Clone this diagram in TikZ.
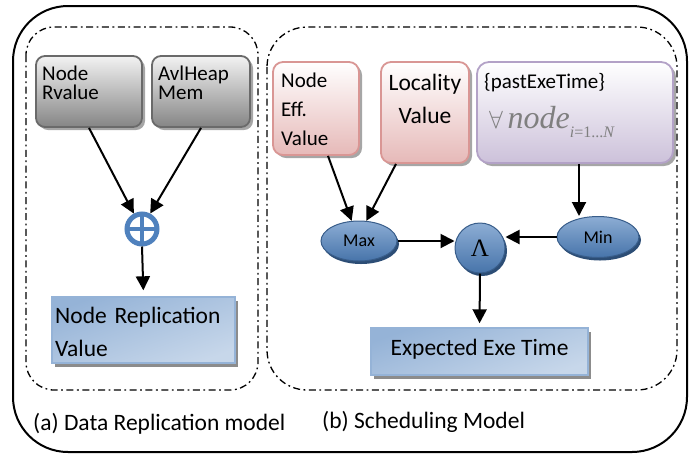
\documentclass[tikz,border=0pt]{standalone}
\usepackage{fontspec}
\setmainfont{Carlito}
\newfontfamily\serifx{Liberation Serif}
\usetikzlibrary{shadows,arrows.meta,shapes.geometric}
\definecolor{blueC}{HTML}{4F81BD}
\definecolor{blueDark}{HTML}{385D8A}
\definecolor{blueShadow}{HTML}{2C4D75}
\definecolor{blueLight}{HTML}{95B3D7}
\definecolor{blueVL}{HTML}{DCE6F2}
\definecolor{redB}{HTML}{D99694}
\definecolor{redF}{HTML}{E6B9B8}
\definecolor{purB}{HTML}{B3A2C7}
\definecolor{purF}{HTML}{CCC1DA}
\definecolor{grayB}{HTML}{6A6A6A}
\definecolor{grayF}{HTML}{858585}
\definecolor{textgray}{HTML}{7F7F7F}
\tikzset{
  arr/.style={line width=2pt, -{Triangle[length=14pt,width=14pt]}},
  dashdot/.style={line width=1.3pt, dash pattern=on 7pt off 3.5pt on 1.8pt off 3.5pt},
  softshadow/.style={drop shadow={shadow xshift=3pt, shadow yshift=-3pt, fill=black, opacity=0.35}},
  graybox/.style={rectangle, rounded corners=9pt, draw=grayB, line width=1.8pt, top color=white!95!black, bottom color=grayF, softshadow},
  redbox/.style={rectangle, rounded corners=10pt, draw=redB, line width=1.8pt, top color=white, bottom color=redF, softshadow},
  purbox/.style={rectangle, rounded corners=12pt, draw=purB, line width=1.8pt, top color=white, bottom color=purF, softshadow},
  bluebox/.style={rectangle, draw=blueLight, line width=1.4pt, top color=blueLight, middle color=blueVL, bottom color=blueVL!70!blueLight, shading angle=20, drop shadow={shadow xshift=3pt, shadow yshift=-4pt, fill=black!45, opacity=1}},
  blueell/.style={ellipse, draw=blueDark, line width=1pt, top color=blueC!65!white, bottom color=blueC!90!black, drop shadow={shadow xshift=2pt, shadow yshift=-3pt, fill=blueShadow, opacity=1}},
  boxtxt/.style={anchor=base west, inner sep=0pt, align=left},
}
\begin{document}
\begin{tikzpicture}[x=1pt,y=-1pt]
\useasboundingbox (0,0) rectangle (690,456);
% frames
\draw[line width=2pt, rounded corners=55pt] (13,6) rectangle (687,452);
\draw[dashdot, rounded corners=28pt] (26,27) rectangle (258,390);
\draw[dashdot, rounded corners=40pt] (267,27) rectangle (677,390);

% (a) Data Replication model
\node[graybox, minimum width=106pt, minimum height=71pt] (nr) at (89,91.5) {};
\node[boxtxt, font=\fontsize{21}{19}\selectfont, text width=98pt] (nrt) at (42,80) {Node\\Rvalue};
\node[graybox, minimum width=98pt, minimum height=71pt] (ah) at (201,91.5) {};
\node[boxtxt, font=\fontsize{21}{19}\selectfont, text width=90pt] (aht) at (158,80) {AvlHeap\\Mem};
\node[circle, draw=blueC, line width=5pt, minimum size=30pt, inner sep=0pt,
  path picture={\draw[blueC, line width=4.5pt] (path picture bounding box.north) -- (path picture bounding box.south) (path picture bounding box.west) -- (path picture bounding box.east);}] (op) at (142,229) {};
\node[bluebox, minimum width=183pt, minimum height=66pt] (nrv) at (143.5,330) {};
\node[boxtxt, font=\fontsize{23.5}{33}\selectfont, text width=178pt] (nrvt) at (55,323) {Node Replication\\Value};
\draw[arr] (nr.south) -- (op.118);
\draw[arr] (ah.south) -- (op.62);
\draw[arr, shorten >=6pt] (op.south) -- (nrv.north);
\node[boxtxt, font=\fontsize{23.5}{28}\selectfont] (capa) at (33,430) {(a) Data Replication model};

% (b) Scheduling model
\node[redbox, minimum width=86pt, minimum height=93pt] (ne) at (316,108.5) {};
\node[boxtxt, font=\fontsize{21}{29}\selectfont, text width=78pt] (net) at (281,87) {Node\\Eff.\\Value};
\node[redbox, minimum width=88pt, minimum height=101pt] (lv) at (425,112.5) {};
\node[anchor=base, inner sep=0pt, align=center, text width=88pt, font=\fontsize{23.5}{33}\selectfont] (lvt) at (425,90) {Locality\\Value};
\node[purbox, minimum width=196pt, minimum height=101pt] (pe) at (575,112.5) {};
\node[boxtxt, font=\fontsize{21}{25}\selectfont] (pet) at (484,88) {\{pastExeTime\}};
\node[boxtxt, text=textgray] (fa) at (489,128) {\fontsize{28}{30}\selectfont$\forall$\,{\serifx\itshape\fontsize{32}{34}\selectfont node}\raisebox{-9pt}{\serifx\fontsize{16}{18}\selectfont\itshape i\upshape=1...\itshape N}};

\node[blueell, minimum width=76pt, minimum height=40pt, font=\fontsize{18}{20}\selectfont] (mx) at (359,241) {Max};
\node[blueell, minimum width=82pt, minimum height=41pt, font=\fontsize{18}{20}\selectfont] (mn) at (598,237) {Min};
\node[circle, draw=blueDark, line width=1pt, minimum size=50pt, inner sep=0pt, top color=blueC!65!white, bottom color=blueC!90!black,
  drop shadow={shadow xshift=2pt, shadow yshift=-3pt, fill=blueShadow, opacity=1}] (lam) at (480,248) {\serifx\fontsize{25}{25}\selectfont Λ};
\node[bluebox, minimum width=217pt, minimum height=47pt, text height=16pt, text depth=8pt, font=\fontsize{23.5}{28}\selectfont] (et) at (479.5,351.5) {Expected Exe Time};

\draw[arr] ([xshift=12pt]ne.south) -- (mx.110);
\draw[arr] ([xshift=-29pt]lv.south) -- (mx.70);
\draw[arr] ([xshift=4pt]pe.south) -- ([xshift=4pt]pe.south |- mn.north);
\draw[arr] (mx.east) -- (lam.west |- mx.east);
\draw[arr] (mn.west) -- (lam.east |- mn.west);
\draw[arr, shorten >=4pt] (lam.south) -- (et.north);
\node[boxtxt, font=\fontsize{23.5}{28}\selectfont] (capb) at (322,428) {(b) Scheduling Model};
\end{tikzpicture}
\end{document}
